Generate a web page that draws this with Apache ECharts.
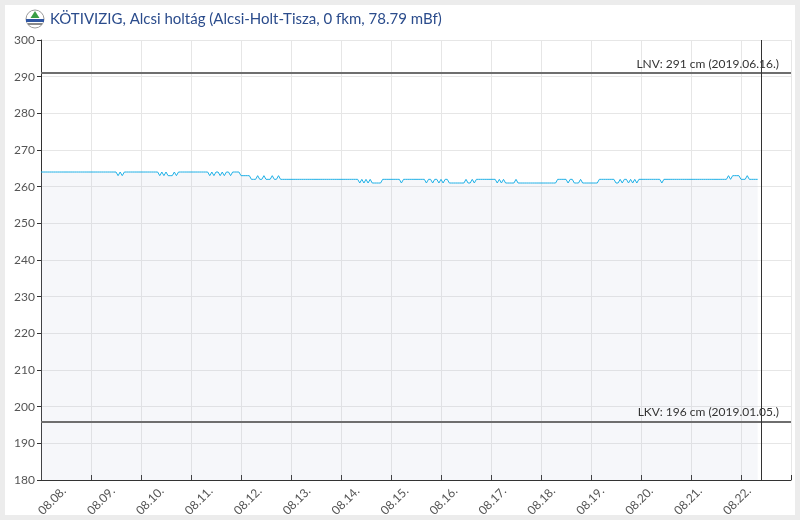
<!DOCTYPE html>
<html lang="hu">
<head>
    <meta charset="UTF-8">
    <title>Alcsi holtág vízállás</title>
    <style>
        html, body {
            margin: 0;
            padding: 0;
            background: #ececec;
        }
        .panel {
            position: absolute;
            left: 5px;
            top: 5px;
            width: 790px;
            height: 510px;
            background: #fff;
        }
        #chart {
            position: absolute;
            left: 0;
            top: 0;
            width: 800px;
            height: 520px;
        }
    </style>
    <script src="https://cdn.jsdelivr.net/npm/echarts@6/dist/echarts.min.js"></script>
</head>
<body>
    <div class="panel"></div>
    <div id="chart"></div>

    <script>
        const titleText = 'KÖTIVIZIG, Alcsi holtág (Alcsi-Holt-Tisza, 0 fkm, 78.79 mBf)';

        // one label per day, hour 0 = 08.08. 00:00
        const dayLabels = ['08.08.', '08.09.', '08.10.', '08.11.', '08.12.', '08.13.', '08.14.', '08.15.',
            '08.16.', '08.17.', '08.18.', '08.19.', '08.20.', '08.21.', '08.22.'];
        const yTicks = [180, 190, 200, 210, 220, 230, 240, 250, 260, 270, 280, 290, 300];

        // hourly water level (cm), one array per day
        const lvl0808 = [264, 264, 264, 264, 264, 264, 264, 264, 264, 264, 264, 264, 264, 264, 264, 264, 264, 264, 264, 264, 264, 264, 264, 264];
        const lvl0809 = [264, 264, 264, 264, 264, 264, 264, 264, 264, 264, 264, 264, 264, 263, 264, 263, 264, 264, 264, 264, 264, 264, 264, 264];
        const lvl0810 = [264, 264, 264, 264, 264, 264, 264, 264, 264, 263, 264, 263, 264, 263, 263, 263, 264, 263, 264, 264, 264, 264, 264, 264];
        const lvl0811 = [264, 264, 264, 264, 264, 264, 264, 264, 264, 263, 264, 263, 264, 264, 263, 264, 263, 264, 264, 263, 264, 264, 264, 264];
        const lvl0812 = [263, 263, 263, 263, 263, 262, 262, 262, 263, 262, 262, 263, 262, 262, 262, 263, 262, 262, 263, 262, 262, 262, 262, 262];
        const lvl0813 = [262, 262, 262, 262, 262, 262, 262, 262, 262, 262, 262, 262, 262, 262, 262, 262, 262, 262, 262, 262, 262, 262, 262, 262];
        const lvl0814 = [262, 262, 262, 262, 262, 262, 262, 262, 262, 261, 262, 261, 262, 261, 262, 261, 261, 261, 261, 261, 262, 262, 262, 262];
        const lvl0815 = [262, 262, 262, 262, 262, 261, 262, 262, 262, 262, 262, 262, 262, 262, 262, 262, 262, 261, 262, 262, 261, 262, 262, 261];
        const lvl0816 = [262, 261, 262, 262, 261, 261, 261, 261, 261, 261, 261, 261, 262, 261, 261, 262, 261, 262, 262, 262, 262, 262, 262, 262];
        const lvl0817 = [262, 262, 262, 261, 262, 261, 262, 261, 261, 261, 261, 261, 262, 261, 261, 261, 261, 261, 261, 261, 261, 261, 261, 261];
        const lvl0818 = [261, 261, 261, 261, 261, 261, 261, 261, 262, 262, 262, 262, 262, 261, 262, 262, 261, 261, 261, 262, 261, 261, 261, 261];
        const lvl0819 = [261, 261, 261, 261, 262, 262, 262, 262, 262, 262, 262, 262, 261, 261, 262, 261, 262, 262, 261, 262, 261, 262, 261, 262];
        const lvl0820 = [262, 262, 262, 262, 262, 262, 262, 262, 262, 262, 261, 262, 262, 262, 262, 262, 262, 262, 262, 262, 262, 262, 262, 262];
        const lvl0821 = [262, 262, 262, 262, 262, 262, 262, 262, 262, 262, 262, 262, 262, 262, 262, 262, 262, 262, 263, 262, 263, 263, 263, 263];
        const lvl0822 = [262, 262, 262, 263, 262, 262, 262, 262, 262];

        // reference levels
        const lnvLevel = 291;
        const lnvText = 'LNV: 291 cm (2019.06.16.)';
        const lkvLevel = 196;
        const lkvText = 'LKV: 196 cm (2019.01.05.)';
        // current time marker, hours from 08.08. 00:00
        const nowHour = 345.6;

        const levels = [].concat(lvl0808, lvl0809, lvl0810, lvl0811, lvl0812, lvl0813, lvl0814, lvl0815,
            lvl0816, lvl0817, lvl0818, lvl0819, lvl0820, lvl0821, lvl0822);
        const seriesData = levels.map((v, i) => [i, v]);

        const font = 'Lato, "Open Sans", sans-serif';
        const chart = echarts.init(document.getElementById('chart'));

        const option = {
            backgroundColor: 'transparent',
            animation: false,
            graphic: [
                // small logo in front of the title
                { type: 'circle', shape: { cx: 35, cy: 19, r: 9 }, style: { fill: '#fff', stroke: '#9a9a9a', lineWidth: 1 } },
                { type: 'polygon', shape: { points: [[35, 11], [30.5, 18], [39.5, 18]] }, style: { fill: '#3a9d46' } },
                { type: 'rect', shape: { x: 26, y: 19, width: 18, height: 3 }, style: { fill: '#2f56a3' } },
                { type: 'rect', shape: { x: 28, y: 23, width: 14, height: 2 }, style: { fill: '#8a8a8a' } },
                {
                    type: 'text', left: 50, top: 12,
                    style: { text: titleText, fill: '#2b4c8c', font: '15px ' + font }
                }
            ],
            grid: [
                { left: 41, top: 40, width: 750, height: 440 },
                // second grid only carries the shifted day labels
                { left: 64, top: 40, width: 750, height: 440 }
            ],
            xAxis: [
                {
                    type: 'value', gridIndex: 0, min: 0, max: 360, interval: 24,
                    axisLine: { lineStyle: { color: '#333', width: 1 } },
                    axisTick: { inside: true, length: 5, lineStyle: { color: '#333' } },
                    axisLabel: { show: false },
                    splitLine: { lineStyle: { color: '#e6e6e6' } }
                },
                {
                    type: 'value', gridIndex: 1, min: 0, max: 360, interval: 24,
                    axisLine: { show: false },
                    axisTick: { show: false },
                    splitLine: { show: false },
                    axisLabel: {
                        rotate: 45, margin: 9, color: '#555', fontSize: 12, fontFamily: font,
                        formatter: (v) => dayLabels[v / 24] || ''
                    }
                }
            ],
            yAxis: [
                {
                    type: 'value', gridIndex: 0, min: yTicks[0], max: yTicks[yTicks.length - 1], interval: 10,
                    axisLine: { show: true, lineStyle: { color: '#333', width: 1 } },
                    axisTick: { show: true, length: 4, lineStyle: { color: '#333' } },
                    axisLabel: { color: '#555', fontSize: 12, fontFamily: font, margin: 6 },
                    splitLine: { lineStyle: { color: '#e6e6e6' } }
                },
                { type: 'value', gridIndex: 1, min: 180, max: 300, show: false }
            ],
            series: [{
                type: 'line',
                xAxisIndex: 0,
                yAxisIndex: 0,
                data: seriesData,
                showSymbol: false,
                lineStyle: { color: '#1fb0e6', width: 1 },
                areaStyle: { color: 'rgba(175, 185, 215, 0.17)', origin: 'start' },
                markLine: {
                    silent: true,
                    symbol: 'none',
                    label: {
                        position: 'insideEndTop', distance: 3, padding: [0, 9, 0, 0],
                        color: '#333', fontSize: 12, fontFamily: font
                    },
                    lineStyle: { type: 'solid', color: '#6e6e6e', width: 2 },
                    data: [
                        { yAxis: lnvLevel, label: { formatter: lnvText } },
                        { yAxis: lkvLevel, label: { formatter: lkvText } },
                        { xAxis: nowHour, label: { show: false }, lineStyle: { color: '#333', width: 1 } }
                    ]
                }
            }]
        };

        chart.setOption(option);
    </script>
</body>
</html>
